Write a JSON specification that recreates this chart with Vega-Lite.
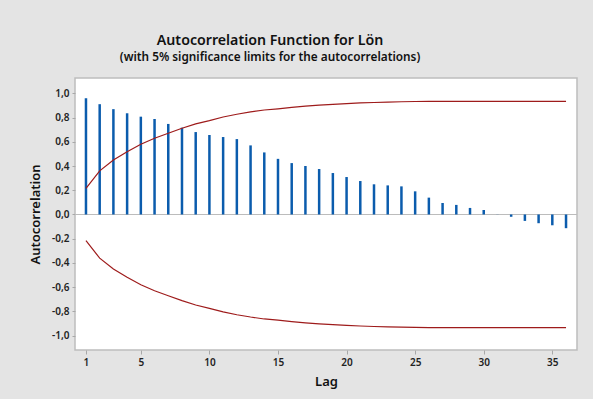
{
  "$schema": "https://vega.github.io/schema/vega-lite/v6.json",
  "width": 502,
  "height": 272,
  "autosize": {"type": "none"},
  "padding": {"left": 75, "top": 78, "right": 16, "bottom": 49},
  "background": "#e4e4e4",
  "config": {
    "locale": {"number": {"decimal": ",", "thousands": " ", "grouping": [3], "currency": ["", " kr"], "minus": "-"}},
    "font": "Noto Sans",
    "view": {"fill": "white", "stroke": "#bdbdbd", "strokeWidth": 1.5},
    "axis": {"grid": false, "domain": false, "tickColor": "#a8a8a8", "tickSize": 3, "labelColor": "#222", "labelFontSize": 10, "labelFontWeight": 600, "labelOverlap": false, "titleFontSize": 13, "titleFontWeight": 600, "titleColor": "#111"}
  },
  "title": {
    "text": "Autocorrelation Function for Lön",
    "subtitle": "(with 5% significance limits for the autocorrelations)",
    "fontSize": 14.2,
    "fontWeight": 600,
    "color": "#111",
    "subtitleFontSize": 11.8,
    "subtitleFontWeight": 600,
    "subtitleColor": "#111",
    "subtitlePadding": 4,
    "dx": -56,
    "offset": 14
  },
  "data": {"values": [
    {"lag": 1, "acf": 0.959, "upper": 0.216, "lower": -0.216},
    {"lag": 2, "acf": 0.910, "upper": 0.360, "lower": -0.360},
    {"lag": 3, "acf": 0.869, "upper": 0.450, "lower": -0.450},
    {"lag": 4, "acf": 0.835, "upper": 0.518, "lower": -0.518},
    {"lag": 5, "acf": 0.807, "upper": 0.580, "lower": -0.580},
    {"lag": 6, "acf": 0.788, "upper": 0.629, "lower": -0.629},
    {"lag": 7, "acf": 0.747, "upper": 0.670, "lower": -0.670},
    {"lag": 8, "acf": 0.716, "upper": 0.711, "lower": -0.711},
    {"lag": 9, "acf": 0.680, "upper": 0.747, "lower": -0.747},
    {"lag": 10, "acf": 0.656, "upper": 0.774, "lower": -0.774},
    {"lag": 11, "acf": 0.639, "upper": 0.804, "lower": -0.804},
    {"lag": 12, "acf": 0.622, "upper": 0.827, "lower": -0.827},
    {"lag": 13, "acf": 0.570, "upper": 0.846, "lower": -0.846},
    {"lag": 14, "acf": 0.512, "upper": 0.862, "lower": -0.862},
    {"lag": 15, "acf": 0.459, "upper": 0.872, "lower": -0.872},
    {"lag": 16, "acf": 0.424, "upper": 0.884, "lower": -0.884},
    {"lag": 17, "acf": 0.400, "upper": 0.894, "lower": -0.894},
    {"lag": 18, "acf": 0.375, "upper": 0.902, "lower": -0.902},
    {"lag": 19, "acf": 0.342, "upper": 0.909, "lower": -0.909},
    {"lag": 20, "acf": 0.309, "upper": 0.915, "lower": -0.915},
    {"lag": 21, "acf": 0.276, "upper": 0.920, "lower": -0.920},
    {"lag": 22, "acf": 0.249, "upper": 0.924, "lower": -0.924},
    {"lag": 23, "acf": 0.240, "upper": 0.927, "lower": -0.927},
    {"lag": 24, "acf": 0.232, "upper": 0.930, "lower": -0.930},
    {"lag": 25, "acf": 0.191, "upper": 0.932, "lower": -0.932},
    {"lag": 26, "acf": 0.139, "upper": 0.933, "lower": -0.933},
    {"lag": 27, "acf": 0.095, "upper": 0.933, "lower": -0.933},
    {"lag": 28, "acf": 0.079, "upper": 0.933, "lower": -0.933},
    {"lag": 29, "acf": 0.054, "upper": 0.933, "lower": -0.933},
    {"lag": 30, "acf": 0.037, "upper": 0.933, "lower": -0.933},
    {"lag": 31, "acf": 0.001, "upper": 0.933, "lower": -0.933},
    {"lag": 32, "acf": -0.019, "upper": 0.933, "lower": -0.933},
    {"lag": 33, "acf": -0.053, "upper": 0.933, "lower": -0.933},
    {"lag": 34, "acf": -0.072, "upper": 0.933, "lower": -0.933},
    {"lag": 35, "acf": -0.089, "upper": 0.933, "lower": -0.933},
    {"lag": 36, "acf": -0.113, "upper": 0.933, "lower": -0.933}
  ]},
  "encoding": {
    "x": {
      "field": "lag", "type": "quantitative",
      "scale": {"domain": [0.2, 36.8], "nice": false, "zero": false},
      "axis": {"values": [1, 5, 10, 15, 20, 25, 30, 35], "tickCount": 40, "title": "Lag", "titlePadding": 8, "labelPadding": 3, "tickSize": 4}
    }
  },
  "layer": [
    {
      "mark": {"type": "rule", "color": "#bcbcbc", "strokeWidth": 1.2},
      "encoding": {
        "x": null,
        "y": {"datum": 0, "type": "quantitative",
          "scale": {"domain": [-1.118, 1.126], "nice": false, "zero": false},
          "axis": {"values": [-1, -0.8, -0.6, -0.4, -0.2, 0, 0.2, 0.4, 0.6, 0.8, 1], "tickCount": 20, "format": ".1f", "labelOverlap": false, "title": "Autocorrelation", "titlePadding": 9, "labelPadding": 3}
        }
      }
    },
    {
      "mark": {"type": "rule", "color": "#0b5cad", "strokeWidth": 2.5},
      "encoding": {
        "y": {"field": "acf", "type": "quantitative"},
        "y2": {"datum": 0}
      }
    },
    {
      "mark": {"type": "line", "color": "#9e1b1b", "strokeWidth": 1.2},
      "encoding": {"y": {"field": "upper", "type": "quantitative"}}
    },
    {
      "mark": {"type": "line", "color": "#9e1b1b", "strokeWidth": 1.2},
      "encoding": {"y": {"field": "lower", "type": "quantitative"}}
    }
  ]
}
